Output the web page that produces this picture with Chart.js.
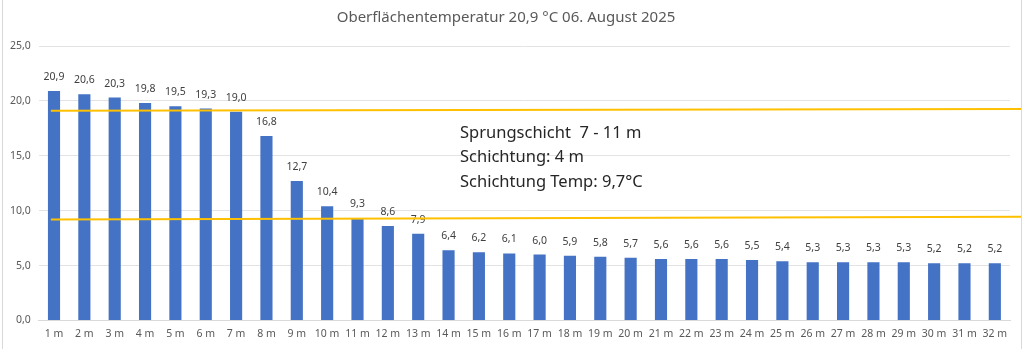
<!DOCTYPE html>
<html>
<head>
<meta charset="utf-8">
<script src="https://cdn.jsdelivr.net/npm/chart.js@4.4.0/dist/chart.umd.min.js"></script>
<style>
  html, body { margin: 0; padding: 0; background: #fff; }
  #wrap { position: relative; width: 1024px; height: 349px; }
  #wrap:before { content: ""; position: absolute; left: 2px; top: 0; bottom: 0; width: 1px; background: #d9d9d9; }
  #wrap:after { content: ""; position: absolute; left: 1021px; top: 0; bottom: 0; width: 1px; background: #d9d9d9; }
</style>
</head>
<body>
<div id="wrap"><canvas id="myCanvas" width="1024" height="349"></canvas></div>
<script>
// depth categories and water temperature (°C)
const depths = ["1 m","2 m","3 m","4 m","5 m","6 m","7 m","8 m","9 m","10 m","11 m","12 m","13 m","14 m","15 m","16 m",
  "17 m","18 m","19 m","20 m","21 m","22 m","23 m","24 m","25 m","26 m","27 m","28 m","29 m","30 m","31 m","32 m"];
const temps = [20.9,20.6,20.3,19.8,19.5,19.3,19.0,16.8,12.7,10.4,9.3,8.6,7.9,6.4,6.2,6.1,
  6.0,5.9,5.8,5.7,5.6,5.6,5.6,5.5,5.4,5.3,5.3,5.3,5.3,5.2,5.2,5.2];

// the two hand drawn orange lines (value at left end, value at right end)
const upperLine = [19.1, 19.25];
const lowerLine = [9.2, 9.45];

const infoText = ["Sprungschicht  7 - 11 m", "Schichtung: 4 m", "Schichtung Temp: 9,7°C"];
const titleText = "Oberflächentemperatur 20,9 °C 06. August 2025";

const fmt = (v) => v.toFixed(1).replace(".", ",");
const FONT = "'Noto Sans', sans-serif";

const valueLabels = {
  id: "valueLabels",
  afterDatasetsDraw(chart) {
    const ctx = chart.ctx;
    const meta = chart.getDatasetMeta(0);
    ctx.save();
    ctx.fillStyle = "#404040";
    ctx.font = "10.5px " + FONT;
    ctx.textAlign = "center";
    ctx.textBaseline = "middle";
    meta.data.forEach((bar, i) => {
      ctx.fillText(fmt(temps[i]), bar.x, bar.y - 14);
    });
    ctx.restore();
  }
};

const markerLines = {
  id: "markerLines",
  afterDraw(chart) {
    const ctx = chart.ctx;
    const y = chart.scales.y;
    const area = chart.chartArea;
    const x0 = area.left + 12, x1 = area.right + 12;
    ctx.save();
    ctx.strokeStyle = "#FFC000";
    ctx.lineWidth = 2;
    [upperLine, lowerLine].forEach((l) => {
      ctx.beginPath();
      ctx.moveTo(x0, y.getPixelForValue(l[0]));
      ctx.lineTo(x1, y.getPixelForValue(l[1]));
      ctx.stroke();
    });
    ctx.fillStyle = "#262626";
    ctx.font = "16.5px " + FONT;
    ctx.textAlign = "left";
    ctx.textBaseline = "middle";
    infoText.forEach((t, i) => {
      ctx.fillText(t, 460, 133 + i * 24.5);
    });
    ctx.restore();
  }
};

new Chart(document.getElementById("myCanvas").getContext("2d"), {
  type: "bar",
  data: {
    labels: depths,
    datasets: [{
      data: temps,
      backgroundColor: "#4472C4",
      barPercentage: 0.4,
      categoryPercentage: 1.0
    }]
  },
  options: {
    responsive: false,
    animation: false,
    layout: { padding: { left: 2, right: 14, top: 3, bottom: 2 } },
    plugins: {
      legend: { display: false },
      tooltip: { enabled: false },
      title: {
        display: true,
        text: titleText,
        color: "#595959",
        font: { family: FONT, size: 15, weight: "normal" },
        padding: { top: 6, bottom: 19 }
      }
    },
    scales: {
      x: {
        grid: { display: false, drawTicks: false },
        border: { display: true, color: "#d9d9d9" },
        ticks: { color: "#595959", font: { family: FONT, size: 10.5 }, maxRotation: 0, autoSkip: false, padding: 7 }
      },
      y: {
        min: 0, max: 25,
        ticks: { stepSize: 5, color: "#595959", font: { family: FONT, size: 10.5 }, padding: 8, callback: (v) => fmt(v) },
        grid: { color: "#e3e3e3", drawTicks: false },
        border: { display: false }
      }
    }
  },
  plugins: [valueLabels, markerLines]
});
</script>
</body>
</html>
